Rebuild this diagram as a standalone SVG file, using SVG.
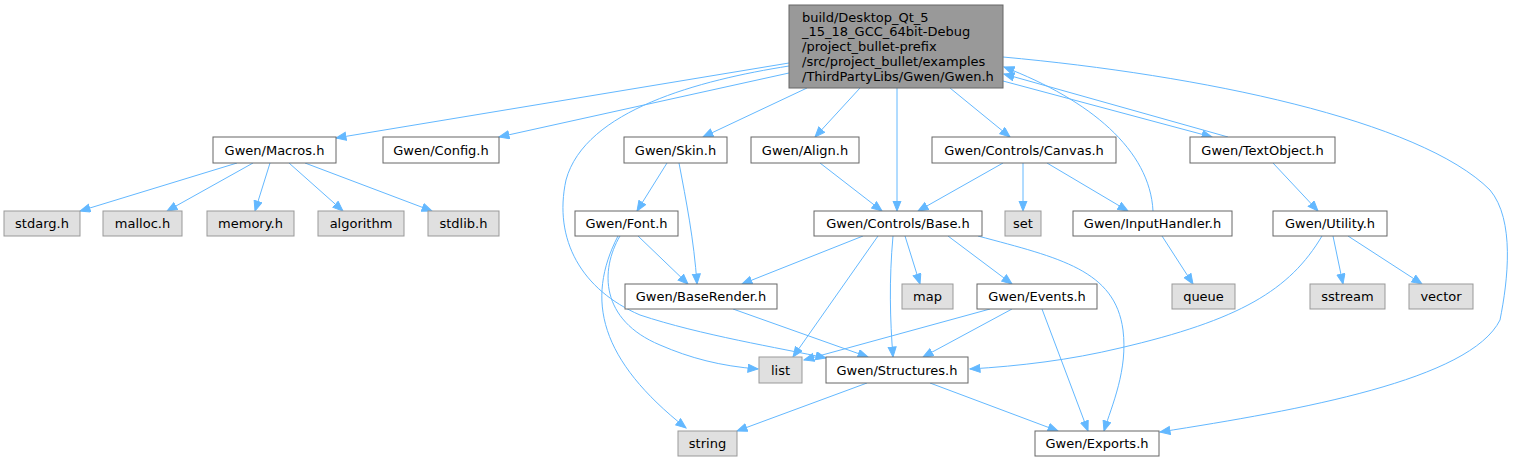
<svg xmlns="http://www.w3.org/2000/svg" width="1516" height="461" viewBox="0 0 1516 461">
<style>
.n rect{fill:#ffffff;stroke:#666666;stroke-width:1}
.g rect{fill:#e0e0e0;stroke:#999999;stroke-width:1}
.m rect{fill:#999999;stroke:#666666;stroke-width:1}
text{font-family:"DejaVu Sans",sans-serif;font-size:13px;fill:#000000}
.c{text-anchor:middle}
#edges path{fill:none;stroke:#63b8ff;stroke-width:1;marker-end:url(#ah)}
</style>
<defs>
<marker id="ah" markerUnits="userSpaceOnUse" markerWidth="12" markerHeight="10" refX="10.5" refY="4.5" orient="auto">
<path d="M0.5,0.5 L10.5,4.5 L0.5,8.5 z" fill="#63b8ff" stroke="#63b8ff" stroke-width="1"/>
</marker>
</defs>
<rect width="1516" height="461" fill="#ffffff"/>
<g id="edges">
<path d="M789,63 L336,138"/>
<path d="M789,73 L499,137"/>
<path d="M789,66 C700,80 585,110 566,180 C553,240 582,290 640,315 C700,335 780,348 826,358"/>
<path d="M807,88 L703,137"/>
<path d="M860,88 L815,137"/>
<path d="M897,88 L897,211"/>
<path d="M950,88 L1010,137"/>
<path d="M1003,81 L1212,137"/>
<path d="M1228,137 L1004,74"/>
<path d="M1153,211 C1150,150 1090,100 1004,67"/>
<path d="M1003,57 C1200,75 1420,120 1490,190 C1515,220 1508,280 1500,320 C1470,380 1300,410 1160,432"/>
<path d="M237,163 L80,211"/>
<path d="M253,163 L167,211"/>
<path d="M270,163 L255,211"/>
<path d="M289,163 L343,211"/>
<path d="M305,163 L432,211"/>
<path d="M667,163 L637,211"/>
<path d="M679,163 C686,200 694,240 697,284"/>
<path d="M638,236 L688,284"/>
<path d="M620,236 C600,270 600,320 660,345 C690,358 720,366 758,369"/>
<path d="M618,236 C585,300 600,360 686,428"/>
<path d="M820,163 L882,211"/>
<path d="M1003,163 L918,211"/>
<path d="M1023,163 L1023,211"/>
<path d="M1047,163 L1128,211"/>
<path d="M863,236 L742,284"/>
<path d="M878,236 L793,357"/>
<path d="M893,236 C889,280 890,320 893,357"/>
<path d="M905,236 L920,284"/>
<path d="M948,236 L1012,284"/>
<path d="M978,236 C1060,258 1115,270 1123,330 C1128,370 1112,405 1104,431"/>
<path d="M1162,236 L1193,284"/>
<path d="M1273,163 L1318,211"/>
<path d="M1333,236 L1343,284"/>
<path d="M1348,236 L1422,284"/>
<path d="M1322,236 C1290,290 1240,320 1120,348 C1070,360 1020,366 970,369"/>
<path d="M733,309 L868,357"/>
<path d="M990,309 L804,360"/>
<path d="M1012,309 L923,357"/>
<path d="M1042,309 L1088,431"/>
<path d="M867,383 L737,431"/>
<path d="M930,383 L1058,431"/>
</g>
<g id="gwen_h" class="m"><rect x="789" y="5" width="214" height="83"/>
<text x="802" y="21.5">build/Desktop_Qt_5</text>
<text x="802" y="36.3">_15_18_GCC_64bit-Debug</text>
<text x="802" y="51">/project_bullet-prefix</text>
<text x="802" y="65.7">/src/project_bullet/examples</text>
<text x="802" y="80.5">/ThirdPartyLibs/Gwen/Gwen.h</text></g>
<g id="macros" class="n"><rect x="213" y="137" width="123" height="26"/><text class="c" x="274.5" y="154.5">Gwen/Macros.h</text></g>
<g id="config" class="n"><rect x="383" y="137" width="116" height="26"/><text class="c" x="441" y="154.5">Gwen/Config.h</text></g>
<g id="skin" class="n"><rect x="624" y="137" width="103" height="26"/><text class="c" x="675.5" y="154.5">Gwen/Skin.h</text></g>
<g id="align" class="n"><rect x="751" y="137" width="108" height="26"/><text class="c" x="805" y="154.5">Gwen/Align.h</text></g>
<g id="canvas" class="n"><rect x="932" y="137" width="184" height="26"/><text class="c" x="1024" y="154.5">Gwen/Controls/Canvas.h</text></g>
<g id="textobject" class="n"><rect x="1190" y="137" width="145" height="26"/><text class="c" x="1262.5" y="154.5">Gwen/TextObject.h</text></g>
<g id="stdarg" class="g"><rect x="4" y="211" width="76" height="25"/><text class="c" x="42" y="228">stdarg.h</text></g>
<g id="malloc" class="g"><rect x="103" y="211" width="79" height="25"/><text class="c" x="142.5" y="228">malloc.h</text></g>
<g id="memory" class="g"><rect x="207" y="211" width="87" height="25"/><text class="c" x="250.5" y="228">memory.h</text></g>
<g id="algorithm" class="g"><rect x="318" y="211" width="86" height="25"/><text class="c" x="361" y="228">algorithm</text></g>
<g id="stdlib" class="g"><rect x="428" y="211" width="71" height="25"/><text class="c" x="463.5" y="228">stdlib.h</text></g>
<g id="font" class="n"><rect x="575" y="211" width="103" height="25"/><text class="c" x="626.5" y="228">Gwen/Font.h</text></g>
<g id="base" class="n"><rect x="814" y="211" width="168" height="25"/><text class="c" x="898" y="228">Gwen/Controls/Base.h</text></g>
<g id="set" class="g"><rect x="1005" y="211" width="36" height="25"/><text class="c" x="1023" y="228">set</text></g>
<g id="inputhandler" class="n"><rect x="1073" y="211" width="159" height="25"/><text class="c" x="1152.5" y="228">Gwen/InputHandler.h</text></g>
<g id="utility" class="n"><rect x="1273" y="211" width="114" height="25"/><text class="c" x="1330" y="228">Gwen/Utility.h</text></g>
<g id="baserender" class="n"><rect x="625" y="284" width="152" height="25"/><text class="c" x="701" y="301">Gwen/BaseRender.h</text></g>
<g id="map" class="g"><rect x="902" y="284" width="51" height="25"/><text class="c" x="927.5" y="301">map</text></g>
<g id="events" class="n"><rect x="977" y="284" width="120" height="25"/><text class="c" x="1037" y="301">Gwen/Events.h</text></g>
<g id="queue" class="g"><rect x="1172" y="284" width="63" height="25"/><text class="c" x="1203.5" y="301">queue</text></g>
<g id="sstream" class="g"><rect x="1310" y="284" width="75" height="25"/><text class="c" x="1347.5" y="301">sstream</text></g>
<g id="vector" class="g"><rect x="1409" y="284" width="64" height="25"/><text class="c" x="1441" y="301">vector</text></g>
<g id="list" class="g"><rect x="759" y="357" width="43" height="26"/><text class="c" x="780.5" y="374.5">list</text></g>
<g id="structures" class="n"><rect x="826" y="357" width="142" height="26"/><text class="c" x="897" y="374.5">Gwen/Structures.h</text></g>
<g id="string" class="g"><rect x="678" y="431" width="59" height="25"/><text class="c" x="707.5" y="448">string</text></g>
<g id="exports" class="n"><rect x="1035" y="431" width="124" height="25"/><text class="c" x="1097" y="448">Gwen/Exports.h</text></g>
</svg>
